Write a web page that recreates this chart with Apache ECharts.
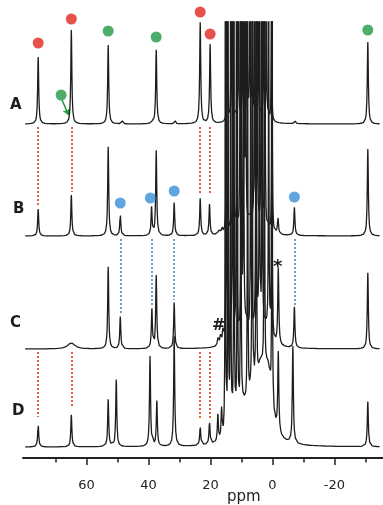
<!DOCTYPE html>
<html lang="en">
<head>
    <meta charset="UTF-8">
    <title>NMR spectra A-D</title>
    <script src="https://cdn.jsdelivr.net/npm/echarts@6.0.0/dist/echarts.min.js"></script>
    <style>
        body{margin:0;background:#fff;}
        #main{width:383px;height:505px;}
    </style>
</head>
<body>
<div id="main"></div>
<script>
    // ppm range of the axis and of the recorded spectra
    var axisMin = -35.7, axisMax = 80.5;
    var specLeft = 80.0, specRight = -34.6;

    // tick labels
    var majorTicks = [60, 40, 20, 0, -20];
    var minorTicks = [70, 50, 30, 10, -10, -30];

    // sharp peaks [ppm, height]
    var peaksA = [[75.6,67],[64.9,94],[53.0,79],[48.5,3],[38.6,4],[37.5,74],[31.4,3],[23.3,101],[20.1,79],[-7.3,3],[-30.8,82]];
    var peaksB = [[75.6,27],[64.9,41],[53.0,89],[49.1,22],[39.0,28],[37.5,85],[31.7,33],[23.3,37],[20.3,31],[17.4,5],[16.3,8],[-1.8,17],[-7.1,28],[-30.8,87]];
    var peaksC = [[53.0,82],[49.1,32],[38.9,39],[37.5,73],[31.7,46],[17.6,8],[16.8,11],[16.0,14],[-1.9,77],[-7.1,41],[-30.8,76]];
    var peaksD = [[75.6,23],[64.9,32],[53.0,47],[50.4,67],[39.5,90],[37.3,45],[31.7,110],[23.3,19],[20.3,23],[17.6,27],[16.4,30],[-1.9,80],[-6.6,97],[-30.8,45]];

    // crowded 15..0 ppm region, lines going off scale
    var forestA = [[14.6,170],[13.3,170],[11.0,170],[9.7,170],[8.2,170],[7.3,170],[6.4,170],[4.6,170],[3.0,170],[1.9,170],[0.3,170]];
    var forestB = [[14.8,290],[12.6,290],[10.4,290],[9.1,290],[8.6,290],[5.8,290],[4.9,290],[3.6,290],[2.4,290],[0.1,290]];
    var forestC = [[14.9,400],[12.9,400],[11.6,400],[10.0,400],[9.3,400],[7.0,400],[5.3,400],[4.2,400],[3.3,400],[1.2,400],[0.2,400]];
    var forestD = [[15.2,490],[14.3,490],[13.5,490],[12.4,490],[11.3,490],[10.2,490],[8.0,490],[6.5,490],[5.2,490],[2.6,490],[0.1,490]];

    // broad humps [ppm, height]
    var broadA = [[12.0,8],[7.0,10],[3.0,8]];
    var broadB = [[12.0,12],[7.0,16],[3.0,12]];
    var broadC = [[64.9,6],[13.0,14],[9.0,22],[5.0,22],[2.0,16]];
    var broadD = [[12.5,14],[9.5,28],[6.5,40],[3.8,58],[1.4,62]];

    // markers [ppm, y]
    var redDots = [[75.6,415],[64.9,439],[23.3,446],[20.1,424]];
    var greenDots = [[53.0,427],[37.5,421],[-30.8,428],[68.2,363]];
    var blueDots = [[49.1,255],[39.4,260],[31.7,267],[-7.1,261]];
    var greenArrow = [[67.9,358],[65.8,343]];

    // dotted guide lines [ppm, yFrom, yTo]
    var redLinks = [[75.6,331,251],[64.9,331,266],[23.3,331,265],[20.1,331,265],
                    [75.6,106,41],[64.9,106,50],[23.3,106,40],[20.3,106,38]];
    var blueLinks = [[49.1,219,143],[38.9,219,151],[31.7,219,158],[-7.1,219,151]];

    // vertical stacking of the four traces
    var offA = 334, offB = 222, offC = 109, offD = 11;
    var wSharp = 0.2, wForest = 0.09, wBroad = 1.4;

    function lor(x, p, w) {
        var d = (x - p[0]) / w;
        return p[1] / (1 + d * d);
    }

    function trace(off, sharp, forest, broad) {
        var xs = [];
        for (var x = specRight; x <= specLeft; x += 0.4) xs.push(x);
        var steps = [0, 0.3, 0.7, 1, 1.6, 2.5, 4, 7, 12, 20];
        sharp.forEach(function (p) {
            steps.forEach(function (s) { xs.push(p[0] + s * wSharp, p[0] - s * wSharp); });
        });
        forest.forEach(function (p) {
            steps.forEach(function (s) { xs.push(p[0] + s * wForest, p[0] - s * wForest); });
        });
        xs = xs.filter(function (x) { return x >= specRight && x <= specLeft; });
        xs.sort(function (a, b) { return a - b; });
        return xs.map(function (x) {
            var y = 0;
            sharp.forEach(function (p) { y += lor(x, p, wSharp); });
            forest.forEach(function (p) { y += lor(x, p, wForest); });
            broad.forEach(function (p) { y += lor(x, p, wBroad); });
            return [x, off + y];
        });
    }

    function links(list) {
        return list.map(function (l) { return {coords: [[l[0], l[1]], [l[0], l[2]]]}; });
    }

    function lineSeries(data) {
        return {
            type: 'line', data: data, symbol: 'none', clip: true, silent: true,
            lineStyle: {color: '#1d1d1d', width: 1.3}
        };
    }

    function dotSeries(data, color) {
        return {
            type: 'scatter', data: data, symbolSize: 11, clip: false, silent: true, z: 5,
            itemStyle: {color: color}
        };
    }

    var myChart = echarts.init(document.getElementById('main'));
    var option = {
        animation: false,
        grid: {left: 23, right: 0, top: 22, bottom: 47, containLabel: false, outerBoundsMode: 'none'},
        xAxis: [{
            type: 'value', inverse: true, min: axisMin, max: axisMax, position: 'bottom',
            splitLine: {show: false},
            axisLine: {lineStyle: {color: '#222', width: 2}},
            axisTick: {customValues: majorTicks, length: 7, lineStyle: {color: '#222', width: 1.5}},
            axisLabel: {customValues: majorTicks, margin: 21, color: '#222', fontSize: 13, fontFamily: 'DejaVu Sans'}
        }, {
            type: 'value', inverse: true, min: axisMin, max: axisMax, position: 'bottom',
            splitLine: {show: false},
            axisLine: {show: false},
            axisTick: {customValues: minorTicks, length: 4.5, lineStyle: {color: '#222', width: 1.5}},
            axisLabel: {show: false}
        }],
        yAxis: {type: 'value', min: 0, max: 436, show: false},
        series: [
            lineSeries(trace(offA, peaksA, forestA, broadA)),
            lineSeries(trace(offB, peaksB, forestB, broadB)),
            lineSeries(trace(offC, peaksC, forestC, broadC)),
            lineSeries(trace(offD, peaksD, forestD, broadD)),
            {
                type: 'lines', coordinateSystem: 'cartesian2d', data: links(redLinks), silent: true,
                lineStyle: {color: '#e2623c', width: 2, type: [2, 2], opacity: 1}
            },
            {
                type: 'lines', coordinateSystem: 'cartesian2d', data: links(blueLinks), silent: true,
                lineStyle: {color: '#6d9fd8', width: 2, type: [2, 2], opacity: 1}
            },
            {
                type: 'lines', coordinateSystem: 'cartesian2d', data: [{coords: greenArrow}], silent: true,
                symbol: ['none', 'arrow'], symbolSize: 6,
                lineStyle: {color: '#1f9a44', width: 1.5, opacity: 1}
            },
            dotSeries(redDots, '#e3261f'),
            dotSeries(greenDots, '#1f9a44'),
            dotSeries(blueDots, '#3a8ed8')
        ],
        graphic: [
            {type: 'text', left: 10, top: 98, style: {text: 'A', font: 'bold 15px "DejaVu Sans"', fill: '#1d1d1d'}},
            {type: 'text', left: 13, top: 202, style: {text: 'B', font: 'bold 15px "DejaVu Sans"', fill: '#1d1d1d'}},
            {type: 'text', left: 10, top: 316, style: {text: 'C', font: 'bold 15px "DejaVu Sans"', fill: '#1d1d1d'}},
            {type: 'text', left: 12, top: 404, style: {text: 'D', font: 'bold 15px "DejaVu Sans"', fill: '#1d1d1d'}},
            {type: 'text', left: 212, top: 318, style: {text: '#', font: 'bold 16px "DejaVu Sans"', fill: '#1d1d1d'}},
            {type: 'text', left: 273, top: 258, style: {text: '*', font: 'bold 18px "DejaVu Sans"', fill: '#1d1d1d'}},
            {type: 'text', left: 227, top: 490, style: {text: 'ppm', font: '15px "DejaVu Sans"', fill: '#222'}}
        ]
    };

    if (option && typeof option === "object") {
        myChart.setOption(option, true);
    }
</script>
</body>
</html>
